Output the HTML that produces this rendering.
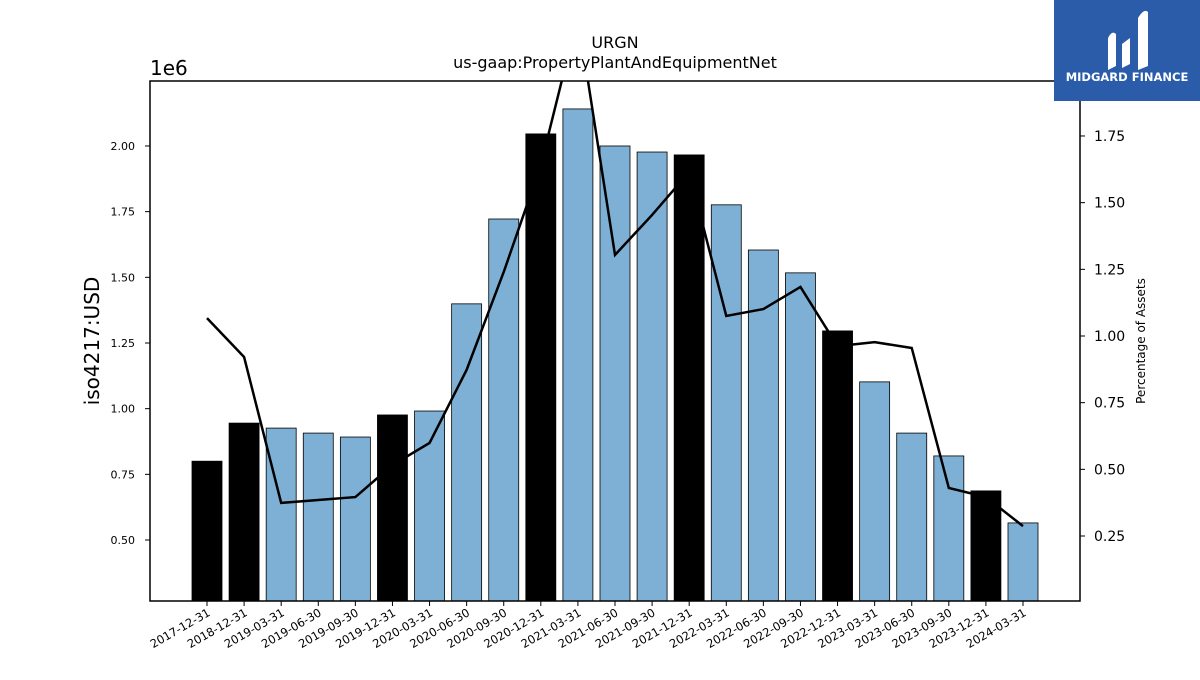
<!DOCTYPE html>
<html><head><meta charset="utf-8"><style>
body{margin:0;background:#fff;font-family:"Liberation Sans","DejaVu Sans",sans-serif}
svg text{font-family:"DejaVu Sans","Liberation Sans",sans-serif}
</style></head><body>
<svg id="chart" width="1200" height="675" xmlns="http://www.w3.org/2000/svg">
<rect width="1200" height="675" fill="#fff"/>
<text x="615" y="48" font-size="16" text-anchor="middle">URGN</text>
<text x="615" y="68" font-size="16" text-anchor="middle">us-gaap:PropertyPlantAndEquipmentNet</text>
<text x="150" y="75" font-size="20">1e6</text>
<text transform="translate(99,341) rotate(-90)" font-size="20" text-anchor="middle">iso4217:USD</text>
<text transform="translate(1145,341) rotate(-90)" font-size="12" text-anchor="middle">Percentage of Assets</text>
<g id="bars"></g><g id="line"></g><g id="axes"></g>
<rect x="150" y="81" width="930" height="520" fill="none" stroke="#000" stroke-width="1.5"/>
<g>
<rect x="1054" y="0" width="146" height="101" fill="#2a5caa"/>
<path d="M1108 70 L1108 38 Q1112 30 1116 34 L1116 66 Z M1122 68 L1122 44 L1130 38 L1130 64 Z M1138 70 L1138 18 Q1144 8 1148 12 L1148 66 Z" fill="#fff"/>
<text x="1127" y="81" font-size="11.5" font-weight="bold" fill="#fff" text-anchor="middle">MIDGARD FINANCE</text>
</g>
</svg>
<script>
const categories=["2017-12-31","2018-12-31","2019-03-31","2019-06-30","2019-09-30","2019-12-31","2020-03-31","2020-06-30","2020-09-30","2020-12-31","2021-03-31","2021-06-30","2021-09-30","2021-12-31","2022-03-31","2022-06-30","2022-09-30","2022-12-31","2023-03-31","2023-06-30","2023-09-30","2023-12-31","2024-03-31"];
const values=[0.80,0.945,0.926,0.907,0.892,0.976,0.991,1.399,1.722,2.046,2.141,2.0,1.977,1.966,1.776,1.604,1.517,1.296,1.102,0.907,0.820,0.687,0.565];
const annual=[1,1,0,0,0,1,0,0,0,1,0,0,0,1,0,0,0,1,0,0,0,1,0];
const pct=[1.067,0.921,0.374,0.385,0.396,0.516,0.599,0.873,1.24,1.641,2.2,1.304,1.454,1.615,1.075,1.101,1.184,0.962,0.977,0.955,0.43,0.396,0.287];
const leftTicks=[0.5,0.75,1.0,1.25,1.5,1.75,2.0];
const rightTicks=[0.25,0.5,0.75,1.0,1.25,1.5,1.75];
const NS="http://www.w3.org/2000/svg";
const X0=150,X1=1080,Y0=81,Y1=601;
const yL=v=>540-(v-0.5)/0.25*65.67;
const yR=v=>536-(v-0.25)/0.25*66.67;
const xC=i=>207+i*(1023-207)/(categories.length-1);
function mk(t,a,p){const e=document.createElementNS(NS,t);for(const k in a)e.setAttribute(k,a[k]);p.appendChild(e);return e;}
const bars=document.getElementById('bars'),line=document.getElementById('line'),axes=document.getElementById('axes');
values.forEach((v,i)=>{
 const y=yL(v);
 const r=mk('rect',{x:xC(i)-15,y:y,width:30,height:Y1-y,fill:annual[i]?'#000':'#7eb0d5',stroke:'#000','stroke-width':0.8},bars);
 
 
 mk('line',{x1:xC(i),x2:xC(i),y1:Y1,y2:Y1+5,stroke:'#000'},axes);
 const t=mk('text',{transform:`translate(${xC(i)+4},${Y1+14}) rotate(-30)`,'font-size':11.5,'text-anchor':'end'},axes);
 t.textContent=categories[i];
 
 
});
const cp=mk('clipPath',{id:'clip'},line);mk('rect',{x:X0,y:Y0,width:X1-X0,height:Y1-Y0},cp);
const pl=mk('polyline',{points:pct.map((v,i)=>xC(i)+','+yR(v)).join(' '),fill:'none',stroke:'#000','stroke-width':2.5,'clip-path':'url(#clip)'},line);


leftTicks.forEach(v=>{const y=yL(v);mk('line',{x1:X0-5,x2:X0,y1:y,y2:y,stroke:'#000'},axes);
 const t=mk('text',{x:X0-15,y:y+4,'font-size':11,'text-anchor':'end'},axes);t.textContent=v.toFixed(2);
 
 });
rightTicks.forEach(v=>{const y=yR(v);mk('line',{x1:X1,x2:X1+5,y1:y,y2:y,stroke:'#000'},axes);
 const t=mk('text',{x:X1+14,y:y+5,'font-size':14},axes);t.textContent=v.toFixed(2);
 
 });
</script>
</body></html>
